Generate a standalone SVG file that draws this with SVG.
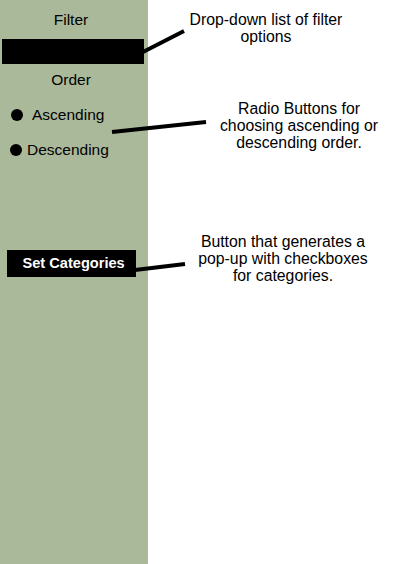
<svg xmlns="http://www.w3.org/2000/svg" width="400" height="564" viewBox="0 0 400 564">
<style>
text{font-family:"Liberation Sans",Arial,sans-serif;font-size:15.5px;fill:#000}
.n{font-size:15.8px}
.c{text-anchor:middle}
.w{fill:#fff;font-weight:bold;font-size:14.6px}
.ln{stroke:#000;stroke-width:4;fill:none}
</style>
<rect x="0" y="0" width="400" height="564" fill="#fff"/>
<g id="panel">
<rect x="0" y="0" width="148" height="564" fill="#abb99b"/>
</g>
<g id="filter">
<text class="c" x="71" y="25">Filter</text>
<rect x="2" y="39" width="142" height="25" fill="#000"/>
</g>
<g id="order">
<text class="c" x="71" y="85">Order</text>
<circle cx="17" cy="115" r="6" fill="#000"/>
<text x="32" y="120">Ascending</text>
<circle cx="16" cy="150" r="6" fill="#000"/>
<text x="27" y="155">Descending</text>
</g>
<g id="setcat">
<rect x="7" y="250" width="129" height="27" fill="#000"/>
<text class="w" x="22.5" y="268">Set Categories</text>
</g>
<g id="connectors">
<line class="ln" x1="143" y1="52" x2="184" y2="31"/>
<line class="ln" x1="112" y1="132" x2="206" y2="122"/>
<line class="ln" x1="135" y1="270" x2="185" y2="264"/>
</g>
<g id="note1">
<text class="c n" x="266" y="25">Drop-down list of filter</text>
<text class="c n" x="266" y="42">options</text>
</g>
<g id="note2">
<text class="c n" x="299" y="114">Radio Buttons for</text>
<text class="c n" x="299" y="131">choosing ascending or</text>
<text class="c n" x="299" y="148">descending order.</text>
</g>
<g id="note3">
<text class="c n" x="283" y="247">Button that generates a</text>
<text class="c n" x="283" y="264">pop-up with checkboxes</text>
<text class="c n" x="283" y="281">for categories.</text>
</g>
</svg>
